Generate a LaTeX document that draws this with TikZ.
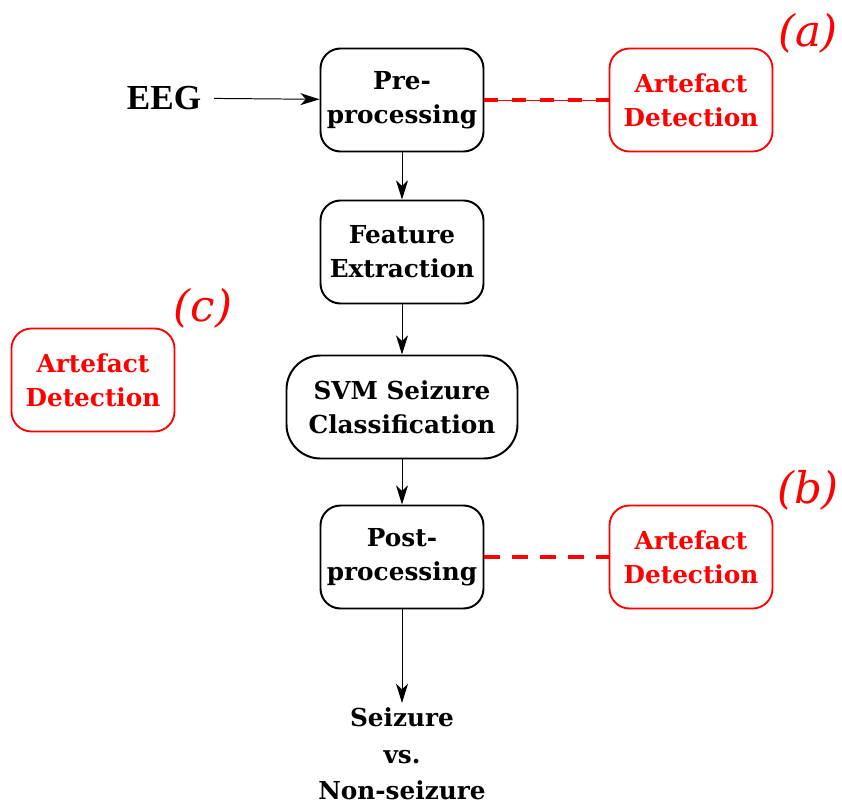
\documentclass[tikz,border=0pt]{standalone}
\usepackage{fontspec}
\setmainfont{DejaVu Serif}
\newfontfamily\eegfont{Liberation Serif}
\usetikzlibrary{arrows.meta, positioning}
\tikzstyle{stage} = [rectangle, rounded corners=0.5cm, text centered, draw=black, line width=1.4pt, minimum width=4.075cm, minimum height=2.575cm, align=center, font=\fontsize{17.6}{24}\selectfont\bfseries]
\tikzstyle{artefact} = [stage, draw=red, text=red, line width=1.3pt]
\tikzstyle{flow} = [-{Stealth[length=0.48cm, width=0.3cm, inset=0.14cm]}, line width=0.7pt]
\tikzstyle{link} = [red, line width=0.7pt]
\tikzstyle{link_dash} = [red, line width=2.6pt, dash pattern=on 0.35cm off 0.35cm]
\tikzstyle{tag} = [red, font=\fontsize{31}{31}\selectfont\itshape]

\begin{document}
\begin{tikzpicture}

    \useasboundingbox (0, 0) rectangle (21.05, -20.2);

    \node (pre) [stage] at (10.05, -2.5) {Pre-\\processing};
    \node (feat) [stage] at (10.05, -6.3) {Feature\\Extraction};
    \node (svm) [stage, minimum width=5.775cm, rounded corners=0.85cm] at (10.05, -10.175) {SVM Seizure\\Classification};
    \node (post) [stage] at (10.05, -13.925) {Post-\\processing};
    \node (result) [align=center, font=\fontsize{17.6}{26}\selectfont\bfseries] at (10.05, -18.85) {Seizure\\vs.\\Non-seizure};

    \node (eeg) [font=\eegfont\fontsize{25}{25}\selectfont\bfseries] at (4.1, -2.45) {EEG};

    \node (arta) [artefact] at (17.275, -2.5) {Artefact\\Detection};
    \node (artb) [artefact] at (17.275, -13.925) {Artefact\\Detection};
    \node (artc) [artefact] at (2.325, -9.5) {Artefact\\Detection};

    \node (taga) [tag] at (20.2, -0.825) {(a)};
    \node (tagb) [tag] at (20.2, -12.25) {(b)};
    \node (tagc) [tag] at (5.075, -7.7) {(c)};

    \draw [flow, shorten <=0.2cm] (eeg) -- (pre);
    \draw [flow] (pre) -- (feat);
    \draw [flow] (feat) -- (svm);
    \draw [flow] (svm) -- (post);
    \draw [flow] (post) -- (result);

    \draw [link] (pre) -- (arta);
    \draw [link_dash] (pre) -- (arta);
    \draw [link_dash, dash pattern=on 0.4cm off 0.3cm] (post) -- (artb);

\end{tikzpicture}
\end{document}
